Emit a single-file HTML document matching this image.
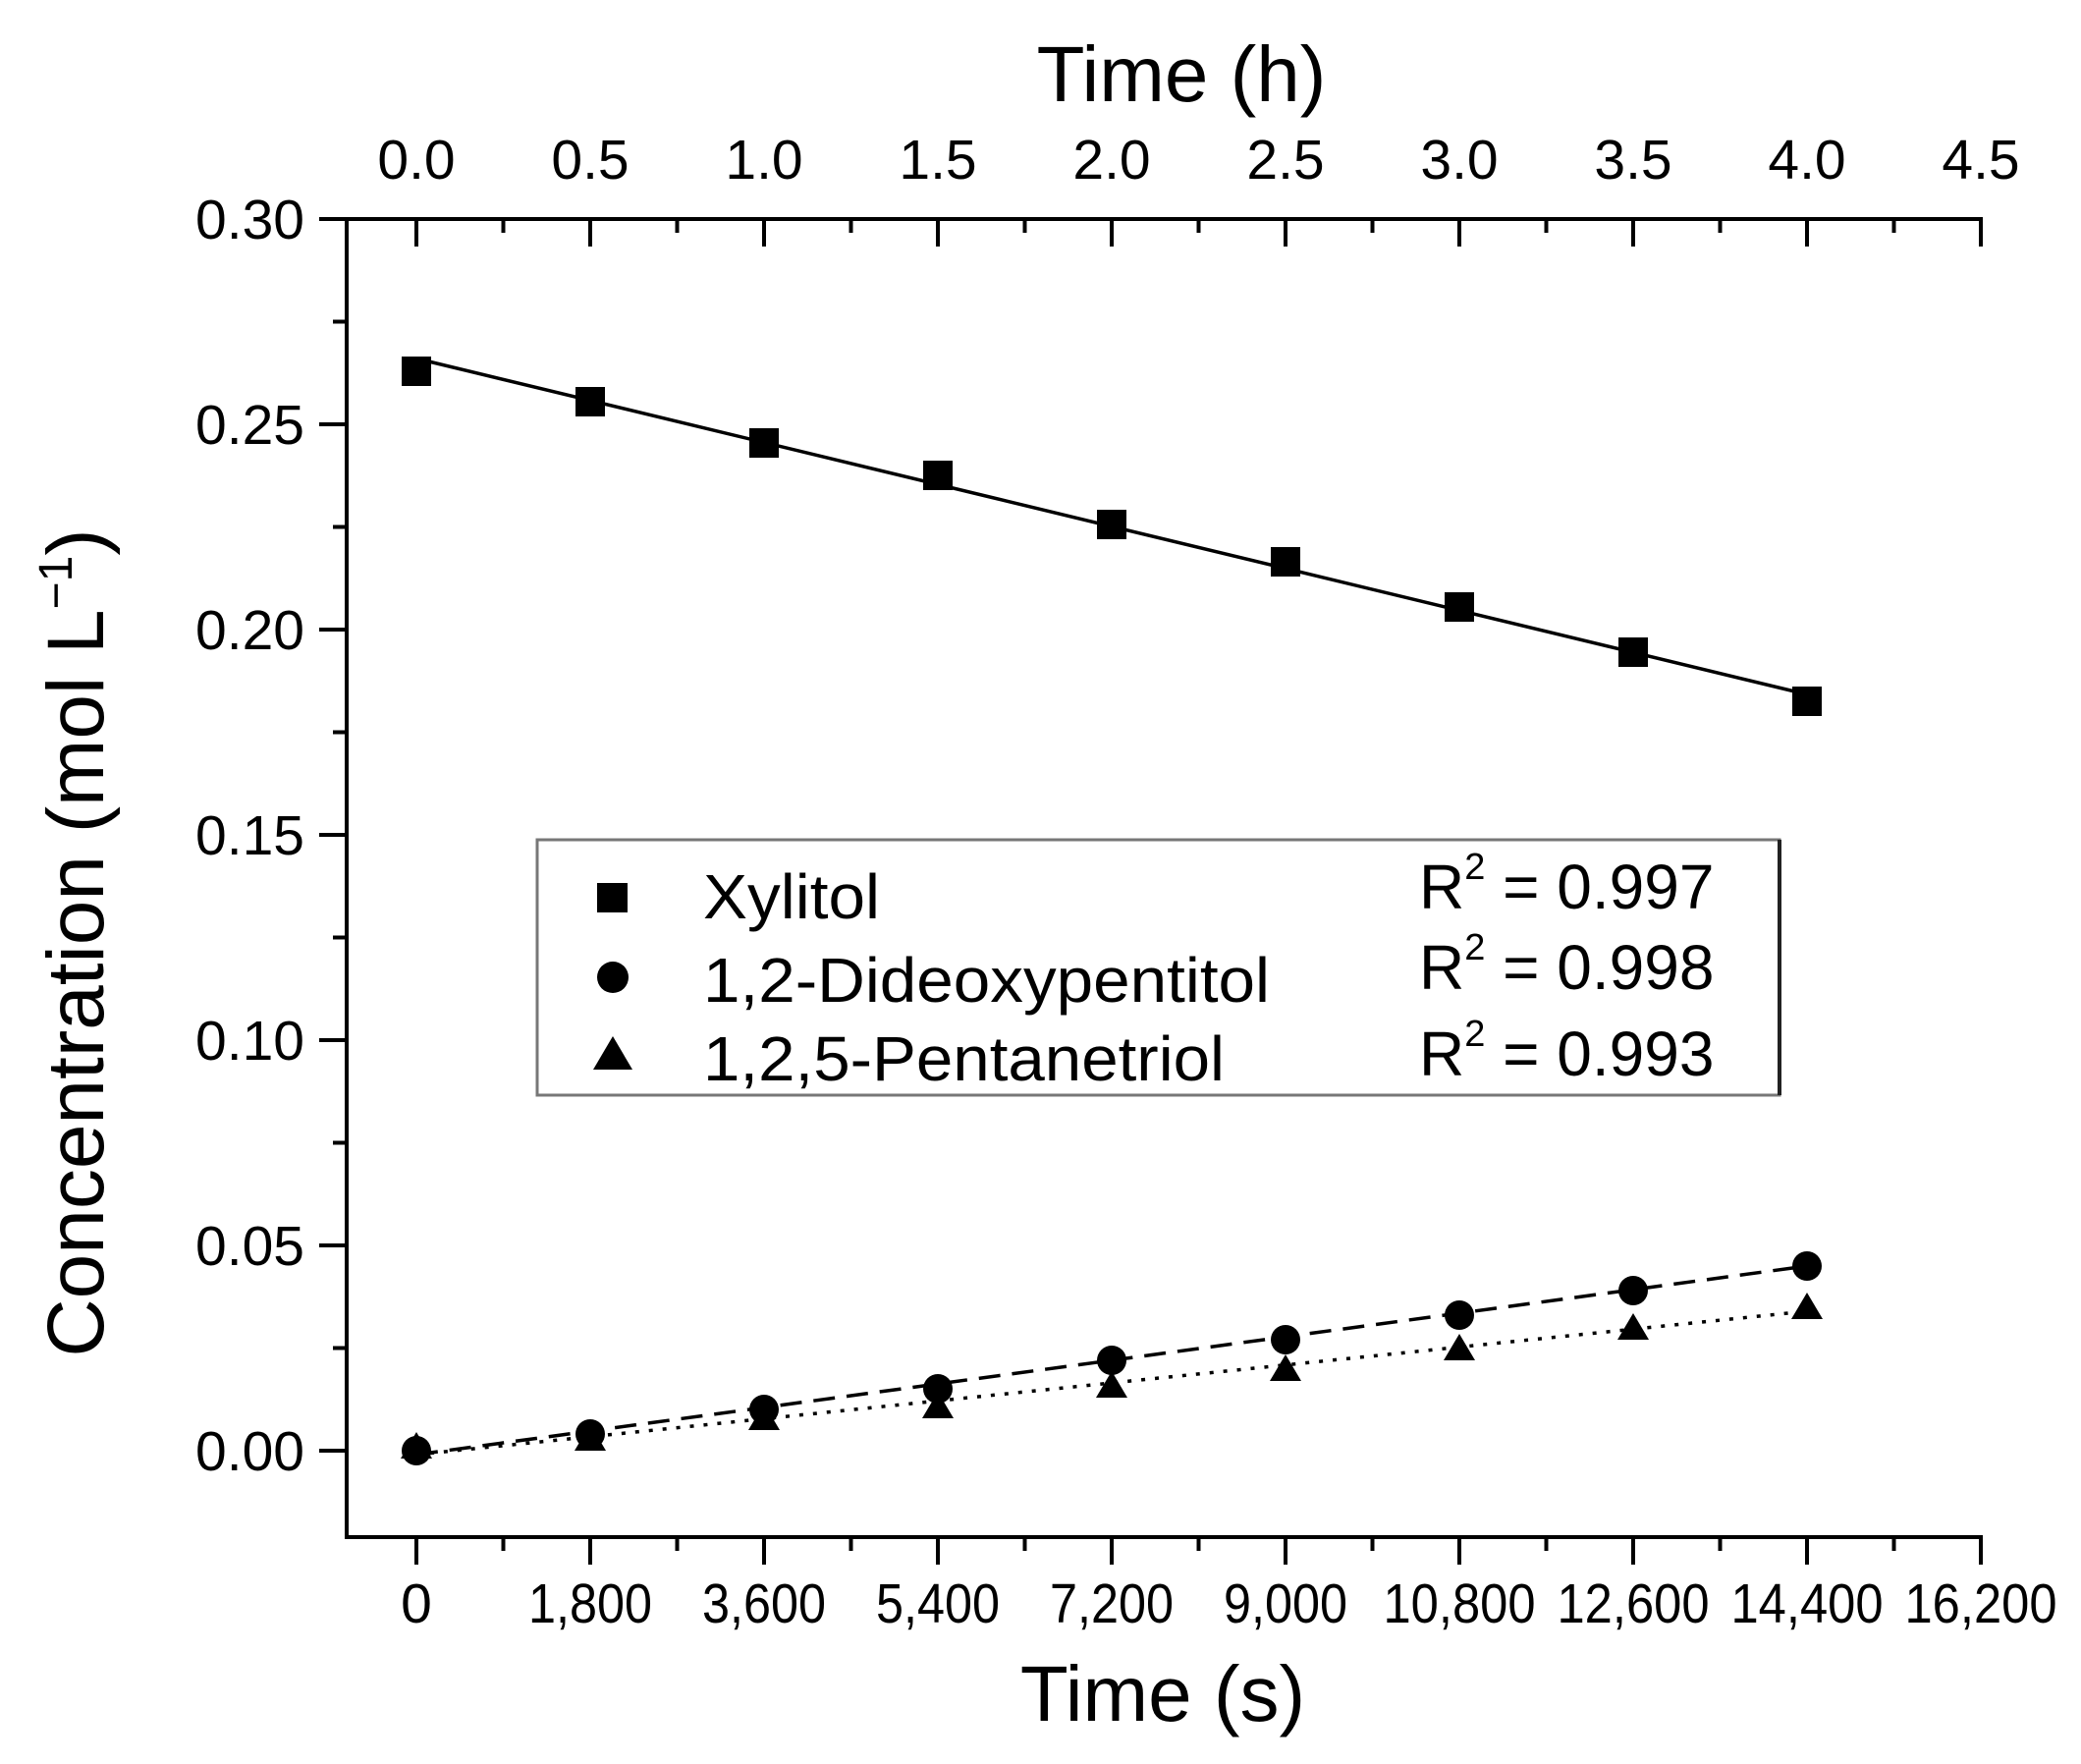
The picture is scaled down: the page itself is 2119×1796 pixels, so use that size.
<!DOCTYPE html>
<html><head><meta charset="utf-8"><style>html,body{margin:0;padding:0;background:#fff}svg{display:block}</style></head>
<body>
<svg width="2119" height="1796" viewBox="0 0 2119 1796" xmlns="http://www.w3.org/2000/svg" font-family="Liberation Sans, Arial, sans-serif">
<rect width="2119" height="1796" fill="#fff"/>
<g stroke="#000" stroke-width="4" fill="none">
<line x1="351" y1="223" x2="2019" y2="223"/>
<line x1="353" y1="221" x2="353" y2="1567"/>
<line x1="351" y1="1565" x2="2019" y2="1565"/>
<path d="M424 223v28M601 223v28M778 223v28M955 223v28M1132 223v28M1309 223v28M1486 223v28M1663 223v28M1840 223v28M2017 223v28"/>
<path d="M512.5 223v14M689.5 223v14M866.5 223v14M1043.5 223v14M1220.5 223v14M1397.5 223v14M1574.5 223v14M1751.5 223v14M1928.5 223v14"/>
<path d="M424 1565v28M601 1565v28M778 1565v28M955 1565v28M1132 1565v28M1309 1565v28M1486 1565v28M1663 1565v28M1840 1565v28M2017 1565v28"/>
<path d="M512.5 1565v14M689.5 1565v14M866.5 1565v14M1043.5 1565v14M1220.5 1565v14M1397.5 1565v14M1574.5 1565v14M1751.5 1565v14M1928.5 1565v14"/>
<path d="M353 223h-28M353 432h-28M353 641h-28M353 850h-28M353 1059h-28M353 1268h-28M353 1477h-28"/>
<path d="M353 327.5h-14M353 536.5h-14M353 745.5h-14M353 954.5h-14M353 1163.5h-14M353 1372.5h-14"/>
</g>
<g font-size="57" fill="#000" text-anchor="end">
<text x="310" y="243">0.30</text><text x="310" y="452">0.25</text><text x="310" y="661">0.20</text>
<text x="310" y="870">0.15</text><text x="310" y="1079">0.10</text><text x="310" y="1288">0.05</text><text x="310" y="1497">0.00</text>
</g>
<g font-size="57" fill="#000" text-anchor="middle">
<text x="424" y="182">0.0</text><text x="601" y="182">0.5</text><text x="778" y="182">1.0</text><text x="955" y="182">1.5</text><text x="1132" y="182">2.0</text><text x="1309" y="182">2.5</text><text x="1486" y="182">3.0</text><text x="1663" y="182">3.5</text><text x="1840" y="182">4.0</text><text x="2017" y="182">4.5</text>
</g>
<g font-size="57" fill="#000" text-anchor="middle" lengthAdjust="spacingAndGlyphs">
<text x="424" y="1652">0</text>
<text x="601" y="1652" textLength="126" lengthAdjust="spacingAndGlyphs">1,800</text>
<text x="778" y="1652" textLength="126" lengthAdjust="spacingAndGlyphs">3,600</text>
<text x="955" y="1652" textLength="126" lengthAdjust="spacingAndGlyphs">5,400</text>
<text x="1132" y="1652" textLength="126" lengthAdjust="spacingAndGlyphs">7,200</text>
<text x="1309" y="1652" textLength="126" lengthAdjust="spacingAndGlyphs">9,000</text>
<text x="1486" y="1652" textLength="155" lengthAdjust="spacingAndGlyphs">10,800</text>
<text x="1663" y="1652" textLength="155" lengthAdjust="spacingAndGlyphs">12,600</text>
<text x="1840" y="1652" textLength="155" lengthAdjust="spacingAndGlyphs">14,400</text>
<text x="2017" y="1652" textLength="155" lengthAdjust="spacingAndGlyphs">16,200</text>
</g>
<text x="1203" y="103" font-size="80" text-anchor="middle">Time (h)</text>
<text x="1184" y="1752" font-size="80" text-anchor="middle">Time (s)</text>
<text transform="translate(105,960) rotate(-90)" font-size="82" text-anchor="middle">Concentration (mol L<tspan font-size="48" dy="-32">−1</tspan><tspan dy="32">)</tspan></text>
<line x1="424" y1="365" x2="1840" y2="707" stroke="#000" stroke-width="3.5"/>
<line x1="424" y1="1481" x2="1840" y2="1289" stroke="#000" stroke-width="3.5" stroke-dasharray="22,12"/>
<line x1="424" y1="1481" x2="1840" y2="1335" stroke="#000" stroke-width="3.5" stroke-dasharray="4,10"/>
<g fill="#000">
<rect x="409" y="363" width="30" height="30"/><rect x="586" y="394" width="30" height="30"/><rect x="763" y="436" width="30" height="30"/><rect x="940" y="469" width="30" height="30"/><rect x="1117" y="519" width="30" height="30"/><rect x="1294" y="557" width="30" height="30"/><rect x="1471" y="603" width="30" height="30"/><rect x="1648" y="649" width="30" height="30"/><rect x="1825" y="699" width="30" height="30"/>
</g>
<g fill="#000">
<path d="M424 1458l16 27h-32z"/><path d="M601 1450l16 27h-32z"/><path d="M778 1429l16 27h-32z"/><path d="M955 1417l16 27h-32z"/><path d="M1132 1396l16 27h-32z"/><path d="M1309 1379l16 27h-32z"/><path d="M1486 1358l16 27h-32z"/><path d="M1663 1337l16 27h-32z"/><path d="M1840 1316l16 27h-32z"/>
</g>
<g fill="#000">
<circle cx="424" cy="1477" r="15"/><circle cx="601" cy="1460" r="15"/><circle cx="778" cy="1435" r="15"/><circle cx="955" cy="1414" r="15"/><circle cx="1132" cy="1385" r="15"/><circle cx="1309" cy="1364" r="15"/><circle cx="1486" cy="1339" r="15"/><circle cx="1663" cy="1314" r="15"/><circle cx="1840" cy="1289" r="15"/>
</g>
<rect x="547" y="855" width="1265" height="260" fill="#fff" stroke="#777" stroke-width="3"/>
<line x1="1812" y1="855" x2="1812" y2="1115" stroke="#222" stroke-width="4"/>
<rect x="608" y="899" width="31" height="30" fill="#000"/>
<circle cx="624" cy="995" r="16" fill="#000"/>
<path d="M624 1055l20 34h-40z" fill="#000"/>
<g font-size="64" fill="#000">
<text x="716" y="935" textLength="180" lengthAdjust="spacingAndGlyphs">Xylitol</text>
<text x="716" y="1020" textLength="577" lengthAdjust="spacingAndGlyphs">1,2-Dideoxypentitol</text>
<text x="716" y="1100" textLength="531" lengthAdjust="spacingAndGlyphs">1,2,5-Pentanetriol</text>
<text x="1445" y="925">R<tspan font-size="38" dy="-30">2</tspan><tspan dy="30"> = 0.997</tspan></text>
<text x="1445" y="1007">R<tspan font-size="38" dy="-30">2</tspan><tspan dy="30"> = 0.998</tspan></text>
<text x="1445" y="1095">R<tspan font-size="38" dy="-30">2</tspan><tspan dy="30"> = 0.993</tspan></text>
</g>
</svg>
</body></html>
